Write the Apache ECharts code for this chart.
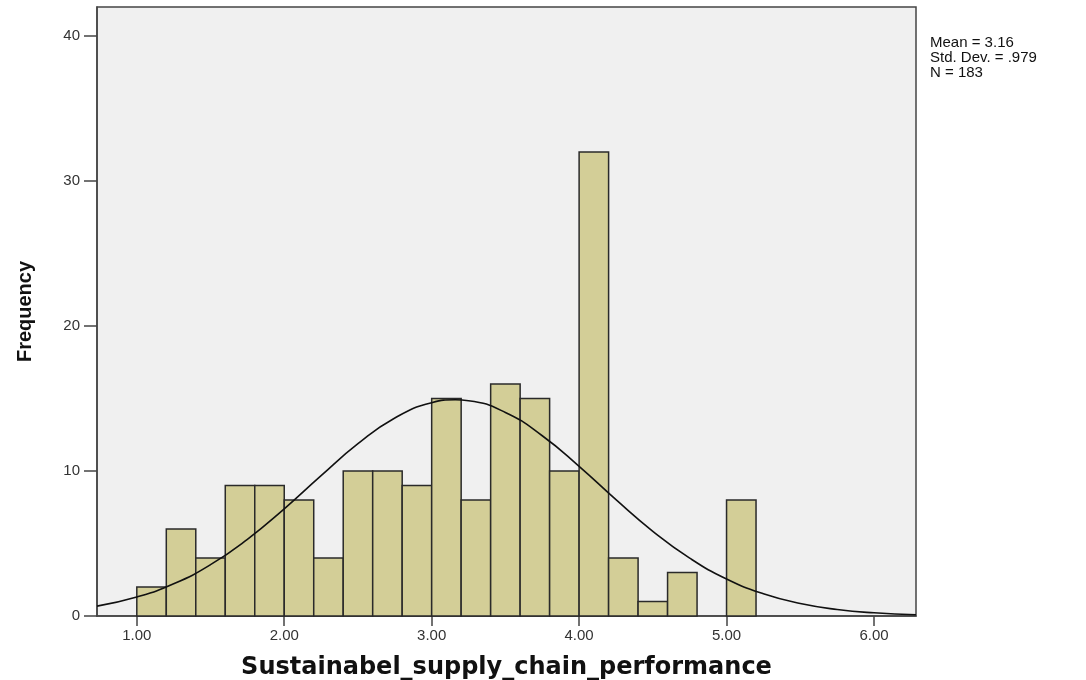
<!DOCTYPE html>
<html>
<head>
<meta charset="utf-8">
<script src="https://cdn.jsdelivr.net/npm/echarts@6/dist/echarts.min.js"></script>
<style>html,body{margin:0;padding:0;background:#fff}#c{width:1086px;height:680px}</style>
</head>
<body>
<div id="c"></div>
<script>
// Histogram bins (lower edges), bin width and frequencies
const binStarts = [1.0,1.2,1.4,1.6,1.8,2.0,2.2,2.4,2.6,2.8,3.0,3.2,3.4,3.6,3.8,4.0,4.2,4.4,4.6,4.8,5.0];
const binWidth = 0.2;
const counts = [2,6,4,9,9,8,4,10,10,9,15,8,16,15,10,32,4,1,3,0,8];
// Normal curve
const curveX = [0.73,1.0,1.25,1.5,1.75,2.0,2.25,2.5,2.75,3.0,3.16,3.25,3.5,3.75,4.0,4.25,4.5,4.75,5.0,5.25,5.5,5.75,6.0,6.285];
const curveY = [0.68,1.31,2.22,3.54,5.29,7.39,9.68,11.88,13.66,14.71,14.91,14.85,14.04,12.43,10.32,8.02,5.84,3.99,2.55,1.53,0.86,0.45,0.22,0.09];
const xTicks = [1,2,3,4,5,6];
const yTicks = [0,10,20,30,40];
const statsLines = ['Mean = 3.16','Std. Dev. = .979','N = 183'];
const xTitle = 'Sustainabel_supply_chain_performance';
const yTitle = 'Frequency';

const barData = binStarts.map((s,i)=>[s, s+binWidth, counts[i]]);
const curveData = curveX.map((x,i)=>[x, curveY[i]]);

const chart = echarts.init(document.getElementById('c'));
chart.setOption({
  animation:false,
  backgroundColor:'#ffffff',
  grid:{left:97,right:170,top:7,bottom:64,outerBoundsMode:'none',containLabel:false,show:true,backgroundColor:'#f0f0f0',borderColor:'#444',borderWidth:1.5},
  xAxis:{
    type:'value',min:0.73,max:6.285,
    name:xTitle,nameLocation:'middle',nameGap:40,
    nameTextStyle:{fontFamily:'DejaVu Sans',fontWeight:'bold',fontSize:24,color:'#111'},
    axisLine:{show:true,onZero:false,lineStyle:{color:'#444',width:1.5}},
    axisTick:{show:true,length:10,customValues:xTicks,lineStyle:{color:'#444',width:1.5}},
    axisLabel:{customValues:xTicks,margin:12,fontFamily:'Liberation Sans',fontSize:15,color:'#333',formatter:v=>v.toFixed(2)},
    splitLine:{show:false}
  },
  yAxis:{
    type:'value',min:0,max:42,
    name:yTitle,nameLocation:'middle',nameGap:62,nameRotate:90,
    nameTextStyle:{fontFamily:'Liberation Sans',fontWeight:'bold',fontSize:20,color:'#111'},
    axisLine:{show:true,lineStyle:{color:'#444',width:1.5}},
    axisTick:{show:true,length:13,customValues:yTicks,lineStyle:{color:'#444',width:1.5}},
    axisLabel:{customValues:yTicks,margin:17,fontFamily:'Liberation Sans',fontSize:15,color:'#333'},
    splitLine:{show:false}
  },
  graphic:[{
    type:'text',left:930,top:35,
    style:{text:statsLines.join('\n'),fontFamily:'Liberation Sans',fontSize:15,lineHeight:15,fill:'#111'}
  }],
  series:[
    {
      type:'custom',
      data:barData,
      encode:{x:[0,1],y:2},
      renderItem:function(params,api){
        const x0=api.value(0),x1=api.value(1),y=api.value(2);
        if(!y) return null;
        const p0=api.coord([x0,y]);
        const p1=api.coord([x1,0]);
        return {type:'rect',shape:{x:p0[0],y:p0[1],width:p1[0]-p0[0],height:p1[1]-p0[1]},
          style:{fill:'#d3ce97',stroke:'#2a2a2a',lineWidth:1.5}};
      },
      z:2
    },
    {
      type:'line',data:curveData,smooth:true,symbol:'none',
      lineStyle:{color:'#111',width:1.6},z:3
    }
  ]
});
</script>
</body>
</html>
